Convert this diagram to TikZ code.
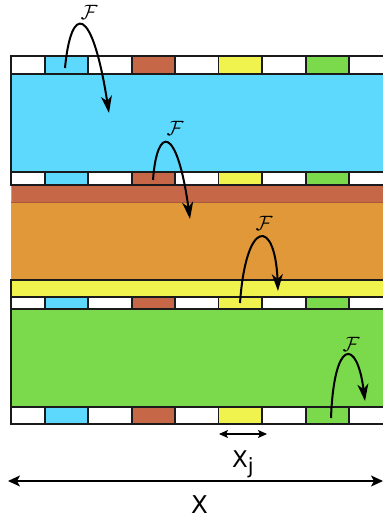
\documentclass[tikz,border=0pt]{standalone}
\usepackage{fontspec}
\setsansfont{DejaVu Sans}
\usetikzlibrary{arrows.meta}
\definecolor{ccyan}{HTML}{5CD9FC}
\definecolor{cbrown}{HTML}{C66848}
\definecolor{corange}{HTML}{E09839}
\definecolor{cyellow}{HTML}{F0F24E}
\definecolor{cgreen}{HTML}{7BD94C}
\definecolor{cline}{HTML}{1A1A1A}
\tikzset{
  x=1pt,y=-1pt,
  layer/.style={draw=cline,line width=1.3pt},
  stripbox/.style={draw=cline,line width=1.8pt,fill=white},
  cellbox/.style={draw=cline,line width=1.8pt},
  farrow/.style={line width=2pt,-{Stealth[length=17pt,width=11pt,inset=5pt]}},
  dimarrow/.style={line width=1.4pt,{Stealth[length=12pt,width=11pt,inset=3pt]}-{Stealth[length=12pt,width=11pt,inset=3pt]}},
  smallarrow/.style={line width=1.2pt,{Stealth[length=9pt,width=8pt,inset=2pt]}-{Stealth[length=9pt,width=8pt,inset=2pt]}},
  flabel/.style={inner sep=0pt,font=\fontsize{20}{20}\selectfont},
  slabel/.style={inner sep=0pt,font=\sffamily\fontsize{23}{23}\selectfont},
}
\newcommand{\stripat}[2]{%
  \draw[stripbox] (11,#1) rectangle (400,#2);
  \draw[cellbox,fill=ccyan]   (45,#1)    rectangle (88,#2);
  \draw[cellbox,fill=cbrown]  (132,#1)   rectangle (175,#2);
  \draw[cellbox,fill=cyellow] (218.5,#1) rectangle (262,#2);
  \draw[cellbox,fill=cgreen]  (306,#1)   rectangle (349,#2);
}
\begin{document}
\begin{tikzpicture}
\useasboundingbox (0,0) rectangle (383,520);
\clip (0,0) rectangle (383,520);
% layers
\draw[layer,fill=ccyan] (11,74) rectangle (400,172);
\fill[cbrown] (11,185) rectangle (400,202);
\fill[corange] (11,202) rectangle (400,280);
\draw[draw=black!35,line width=0.8pt] (11,185) -- (11,280);
\draw[draw=cbrown!85!black,line width=0.6pt] (11,202) -- (400,202);
\draw[layer,fill=cyellow] (11,280) rectangle (400,297);
\draw[layer,fill=cgreen] (11,309) rectangle (400,407);
% strips
\stripat{56}{74}
\stripat{172}{185}
\stripat{297}{309}
\stripat{407}{424}
% F arrows
\coordinate (s1) at (65,68);   \coordinate (e1) at (109,113);
\coordinate (s2) at (153,180); \coordinate (e2) at (190,219);
\coordinate (s3) at (240,303); \coordinate (e3) at (278,291);
\coordinate (s4) at (331,418); \coordinate (e4) at (365,401);
\draw[farrow] (s1) .. controls (71,4) and (92,4) .. (e1);
\draw[farrow] (s2) .. controls (157,125) and (177,125) .. (e2);
\draw[farrow] (s3) .. controls (246,218) and (275,218) .. (e3);
\draw[farrow] (s4) .. controls (334,338) and (357,338) .. (e4);
\node[flabel] (f1) at (89,12) {$\mathcal{F}$};
\node[flabel] (f2) at (175,128) {$\mathcal{F}$};
\node[flabel] (f3) at (264,223) {$\mathcal{F}$};
\node[flabel] (f4) at (351,344) {$\mathcal{F}$};
% dimensions
\coordinate (xj1) at (219,434); \coordinate (xj2) at (267,434);
\draw[smallarrow] (xj1) -- (xj2);
\node[slabel,anchor=base west] (xj) at (232,467) {X\raisebox{-6.5pt}{\fontsize{21}{21}\selectfont j}};
\coordinate (xa) at (8,481); \coordinate (xb) at (383,481);
\draw[dimarrow] (xa) -- (xb);
\node[slabel,anchor=base] (xl) at (199.5,513) {\fontsize{24.5}{24.5}\selectfont X};
\end{tikzpicture}
\end{document}
